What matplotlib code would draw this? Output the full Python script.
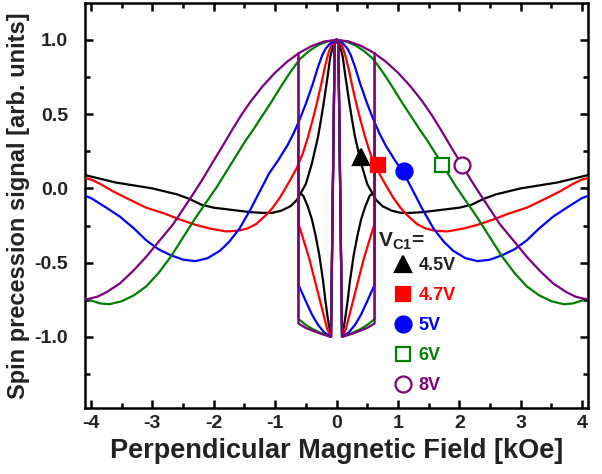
import numpy as np
import matplotlib
matplotlib.use("Agg")
import matplotlib.pyplot as plt
from matplotlib.lines import Line2D

plt.rcParams['font.family'] = ['Liberation Sans', 'DejaVu Sans']
plt.rcParams['font.weight'] = 'bold'
plt.rcParams['mathtext.fontset'] = 'custom'
plt.rcParams['mathtext.rm'] = 'Liberation Sans:bold'
plt.rcParams['mathtext.bf'] = 'Liberation Sans:bold'
plt.rcParams['mathtext.it'] = 'Liberation Sans:bold'

# series (right half, mirrored to negative field)
labels = ['4.5V', '4.7V', '5V', '6V', '8V']
colors = ['#000000', '#ff0000', '#0000ff', '#008000', '#800080']
text_colors = ['#222222', '#ff0000', '#0000ff', '#008000', '#800080']

# outer branch: field [kOe], signal
b_black = [0, 0.05, 0.1, 0.15, 0.2, 0.25, 0.3, 0.35, 0.4, 0.5, 0.58, 0.65, 0.75, 0.9, 1.05, 1.2,
           1.4, 1.6, 1.8, 2.0, 2.2, 2.4, 2.6, 2.8, 3.0, 3.3, 3.6, 3.8, 4.0, 4.1]
s_black = [1.0, 0.97, 0.89, 0.74, 0.6, 0.47, 0.35, 0.26, 0.17, 0.03, -0.03, -0.08, -0.12, -0.15, -0.165, -0.165,
           -0.16, -0.15, -0.14, -0.13, -0.11, -0.07, -0.04, -0.02, 0.0, 0.02, 0.04, 0.06, 0.08, 0.09]
b_red = [0, 0.04, 0.07, 0.1, 0.14, 0.2, 0.25, 0.32, 0.39, 0.47, 0.55, 0.65, 0.75, 0.82, 0.92, 1.04, 1.15, 1.31,
         1.45, 1.6, 1.8, 2.07, 2.3, 2.55, 2.8, 3.1, 3.4, 3.64, 3.85, 4.0, 4.1]
s_red = [1.0, 0.99, 0.975, 0.95, 0.9, 0.8, 0.7, 0.575, 0.46, 0.34, 0.235, 0.135, 0.06, 0.01, -0.06, -0.13, -0.18, -0.24,
         -0.27, -0.285, -0.29, -0.27, -0.245, -0.21, -0.17, -0.13, -0.07, -0.02, 0.03, 0.06, 0.07]
b_blue = [0, 0.06, 0.12, 0.18, 0.23, 0.3, 0.39, 0.5, 0.6, 0.7, 0.8, 0.95, 1.1, 1.25, 1.4, 1.58, 1.75, 1.9,
          2.1, 2.3, 2.5, 2.7, 2.9, 3.1, 3.3, 3.53, 3.75, 4.0, 4.1]
s_blue = [1.0, 0.99, 0.97, 0.94, 0.9, 0.82, 0.7, 0.57, 0.465, 0.37, 0.29, 0.19, 0.1, -0.02, -0.14, -0.27, -0.36, -0.42,
          -0.47, -0.49, -0.48, -0.45, -0.41, -0.35, -0.27, -0.19, -0.13, -0.065, -0.05]
b_green = [0, 0.15, 0.3, 0.45, 0.6, 0.75, 0.9, 1.05, 1.2, 1.35, 1.5, 1.65, 1.8, 1.95, 2.1, 2.3, 2.5,
           2.7, 2.9, 3.1, 3.3, 3.5, 3.7, 3.85, 4.0, 4.1]
s_green = [1.0, 0.99, 0.965, 0.925, 0.87, 0.785, 0.69, 0.59, 0.495, 0.4, 0.31, 0.21, 0.11, 0.01, -0.08, -0.2, -0.33,
           -0.46, -0.57, -0.66, -0.72, -0.76, -0.78, -0.775, -0.755, -0.74]
b_purple = [0, 0.2, 0.4, 0.6, 0.8, 1.0, 1.2, 1.4, 1.55, 1.7, 1.85, 2.04, 2.2, 2.34, 2.5, 2.66, 2.9,
            3.1, 3.3, 3.53, 3.75, 3.9, 4.0, 4.1]
s_purple = [1.0, 0.99, 0.96, 0.915, 0.855, 0.78, 0.69, 0.585, 0.495, 0.395, 0.29, 0.16, 0.05, -0.04, -0.14, -0.24, -0.36,
            -0.46, -0.55, -0.64, -0.7, -0.73, -0.74, -0.75]

# inner branch (|B| < 0.62), including steep drop from B=0 and join at 0.62
ib_black = [0, 0.03, 0.09, 0.14, 0.18, 0.22, 0.28, 0.34, 0.4, 0.47, 0.54, 0.6, 0.62]
is_black = [1.0, 0.97, -1.0, -0.88, -0.76, -0.62, -0.45, -0.32, -0.21, -0.12, -0.05, -0.03, -0.07]
ib_red = [0, 0.03, 0.09, 0.15, 0.28, 0.44, 0.55, 0.62, 0.62]
is_red = [1.0, 0.97, -1.0, -0.95, -0.74, -0.48, -0.33, -0.24, 0.2]
ib_blue = [0, 0.03, 0.09, 0.2, 0.3, 0.4, 0.5, 0.62, 0.62]
is_blue = [1.0, 0.97, -1.0, -0.97, -0.92, -0.85, -0.76, -0.65, 0.45]
ib_green = [0, 0.03, 0.09, 0.25, 0.38, 0.5, 0.62, 0.62]
is_green = [1.0, 0.97, -1.0, -0.975, -0.95, -0.92, -0.88, 0.88]
ib_purple = [0, 0.03, 0.09, 0.25, 0.38, 0.5, 0.62, 0.62]
is_purple = [1.0, 0.97, -1.0, -0.98, -0.96, -0.94, -0.91, 0.91]

outer = [(b_black, s_black), (b_red, s_red), (b_blue, s_blue), (b_green, s_green), (b_purple, s_purple)]
inner = [(ib_black, is_black), (ib_red, is_red), (ib_blue, is_blue), (ib_green, is_green), (ib_purple, is_purple)]

# marker positions on the curves
mark_b = [0.4, 0.68, 1.1, 1.72, 2.04]
mark_s = [0.21, 0.155, 0.12, 0.155, 0.155]
mark_style = ['^', 's', 'o', 's', 'o']
mark_fill = [True, True, True, False, False]
mark_size = [12, 10, 11.5, 10, 11.5]

fig = plt.figure(figsize=(6.02, 4.74), dpi=100)
ax = fig.add_axes([0.141, 0.139, 0.836, 0.855])

for i in range(5):
    b, s = outer[i]
    b = np.array(b); s = np.array(s)
    ax.plot(b, s, color=colors[i], lw=1.6, zorder=2 + i, solid_joinstyle='round')
    ax.plot(-b, s, color=colors[i], lw=1.6, zorder=2 + i, solid_joinstyle='round')
for i in range(5):
    b, s = inner[i]
    b = np.array(b); s = np.array(s)
    ax.plot(b, s, color=colors[i], lw=1.6, zorder=8 + i)
    ax.plot(-b, s, color=colors[i], lw=1.6, zorder=8 + i)

handles = []
for i in range(5):
    fc = colors[i] if mark_fill[i] else 'white'
    ax.plot([mark_b[i]], [mark_s[i]], marker=mark_style[i], ms=mark_size[i], mfc=fc,
            mec=colors[i], mew=1.6, ls='none', zorder=20)
    handles.append(Line2D([], [], marker=mark_style[i], ms=mark_size[i], mfc=fc,
                          mec=colors[i], mew=1.6, ls='none'))

leg = ax.legend(handles, labels, loc='upper left', bbox_to_anchor=(0.614, 0.372), frameon=False,
                prop={'size': 13, 'weight': 'bold'}, labelcolor=text_colors, handlelength=1.0,
                handletextpad=0.35, labelspacing=0.72, borderpad=0, borderaxespad=0)
ax.text(0.68, -0.39, r'$\mathregular{V_{C1}}$=', fontsize=15, color='#222222', va='baseline')

ax.set_xlim(-4.1, 4.1)
ax.set_ylim(-1.48, 1.25)
ax.set_xticks(np.arange(-4, 5, 1))
ax.set_xticks(np.arange(-4, 4.01, 0.5), minor=True)
ax.set_yticks([-1.0, -0.5, 0.0, 0.5, 1.0])
ax.set_yticks(np.arange(-1.25, 1.01, 0.25), minor=True)
ax.set_yticklabels(['-1.0', '-0.5', '0.0', '0.5', '1.0'], fontweight='bold')
ax.set_xticklabels(['-4', '-3', '-2', '-1', '0', '1', '2', '3', '4'], fontweight='bold')
ax.tick_params(which='both', direction='in', top=True, right=True, width=1.8,
               labelsize=14, labelcolor='#222222')
ax.tick_params(which='major', length=6)
ax.tick_params(which='minor', length=3.5)
ax.tick_params(axis='y', pad=12)
ax.tick_params(axis='x', pad=5)
for sp in ax.spines.values():
    sp.set_linewidth(1.8)

ax.set_xlabel('Perpendicular Magnetic Field [kOe]', fontsize=19.5, fontweight='bold',
              color='#222222', labelpad=4)
ax.set_ylabel('Spin precession signal [arb. units]', fontsize=17, fontweight='bold',
              color='#222222', labelpad=3)

fig.savefig('out.png', dpi=100)
